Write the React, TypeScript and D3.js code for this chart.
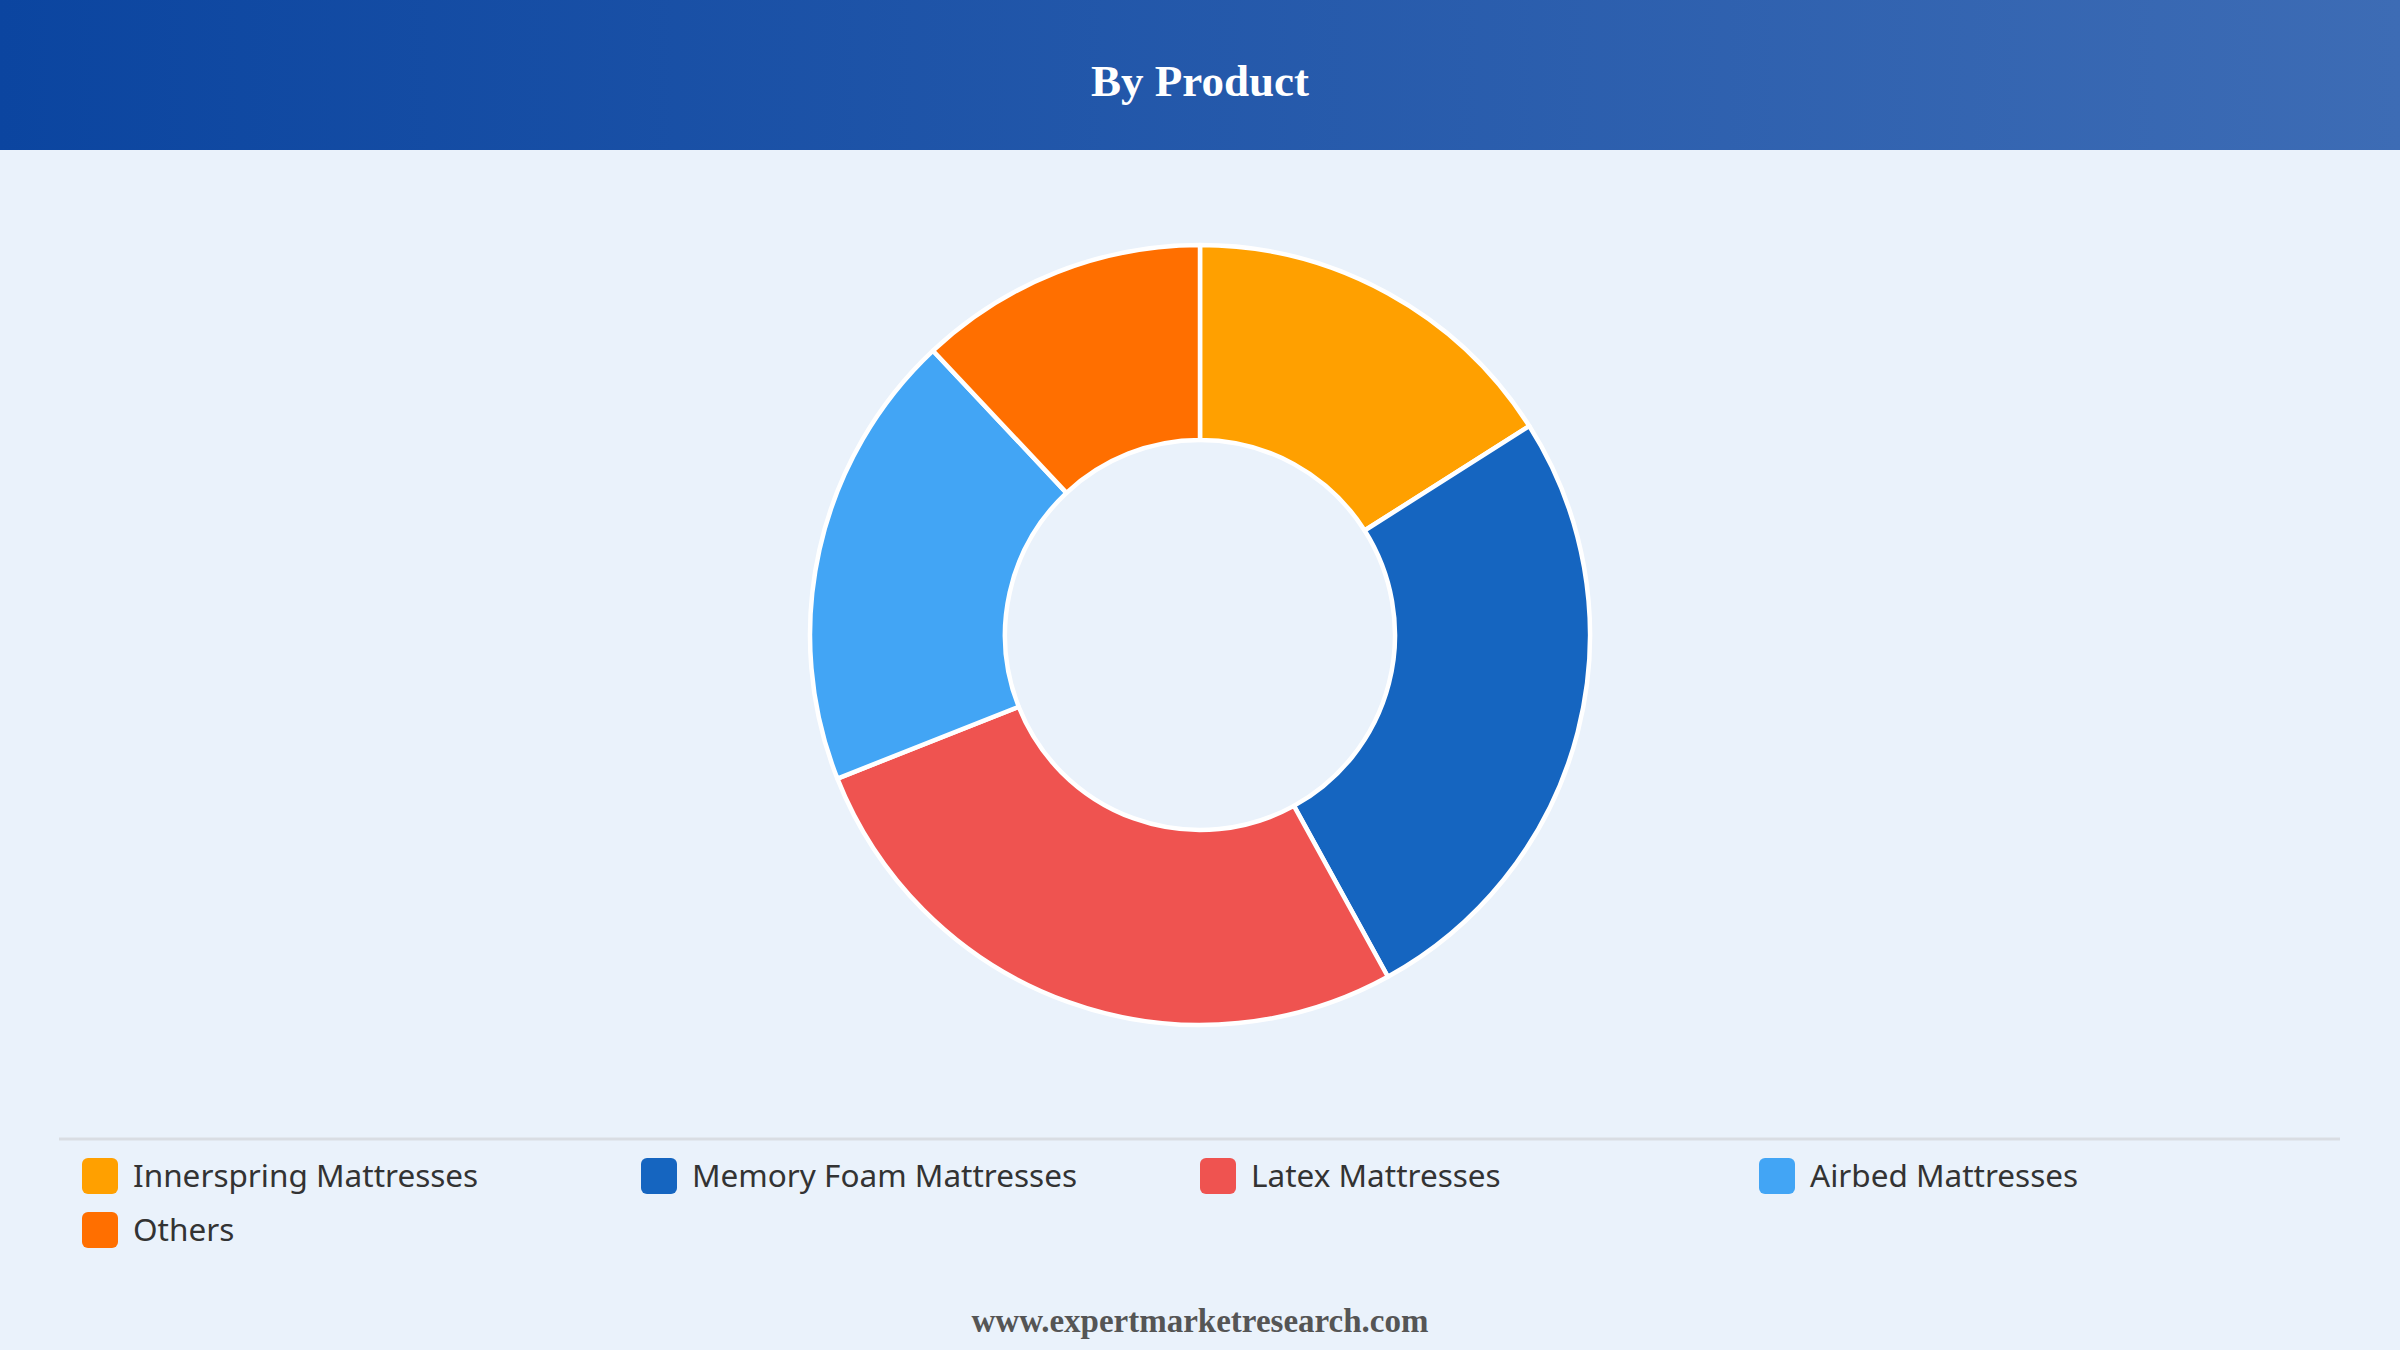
import React from "react";
import * as d3 from "d3";

const categories = ["Innerspring Mattresses", "Memory Foam Mattresses", "Latex Mattresses", "Airbed Mattresses", "Others"];
const values = [16, 26, 27, 19, 12];
const colors = ["#FFA000", "#1565C0", "#EF5350", "#42A5F5", "#FF6F00"];
const title = "By Product";
const footer = "www.expertmarketresearch.com";

const W = 2400;
const H = 1350;

export default function App() {
  const cx = 1200;
  const cy = 635;
  const pie = d3.pie<number>().sort(null).startAngle(0).endAngle(2 * Math.PI);
  const arcs = pie(values);
  const arcGen = d3.arc<d3.PieArcDatum<number>>().innerRadius(195).outerRadius(390);

  const legendX = d3.scaleLinear().domain([0, 1]).range([82, 641]);
  const cols = 4;

  return (
    <svg width={W} height={H} style={{ position: "absolute", left: 0, top: 0, display: "block" }}>
      <defs>
        <linearGradient id="hdr" x1="0" x2="1" y1="0" y2="0">
          <stop offset="0%" stopColor="#0B45A0" />
          <stop offset="100%" stopColor="#3D6CB5" />
        </linearGradient>
      </defs>
      <rect x={0} y={0} width={W} height={H} fill="#EAF2FB" />
      <rect x={0} y={0} width={W} height={150} fill="url(#hdr)" />
      <text x={W / 2} y={96} textAnchor="middle" fill="#ffffff" fontFamily="'Liberation Serif', 'Times New Roman', serif" fontWeight="bold" fontSize={45}>
        {title}
      </text>
      <g transform={`translate(${cx},${cy})`}>
        {arcs.map((a, i) => (
          <path key={i} d={arcGen(a) || ""} fill={colors[i]} stroke="#ffffff" strokeWidth={4.5} strokeLinejoin="round" />
        ))}
      </g>
      <line x1={59} x2={2340} y1={1139} y2={1139} stroke="#D9DDE3" strokeWidth={3} />
      {categories.map((c, i) => {
        const col = i % cols;
        const row = Math.floor(i / cols);
        const x = legendX(col);
        const y = 1158 + row * 54;
        return (
          <g key={c}>
            <rect x={x} y={y} width={36} height={36} rx={6} fill={colors[i]} />
            <text x={x + 51} y={y + 29} fill="#333333" fontFamily="'Noto Sans', 'Open Sans', sans-serif" fontSize={31.5}>
              {c}
            </text>
          </g>
        );
      })}
      <text x={W / 2} y={1332} textAnchor="middle" fill="#555555" fontFamily="'Liberation Serif', 'Times New Roman', serif" fontWeight="bold" fontSize={33}>
        {footer}
      </text>
    </svg>
  );
}
